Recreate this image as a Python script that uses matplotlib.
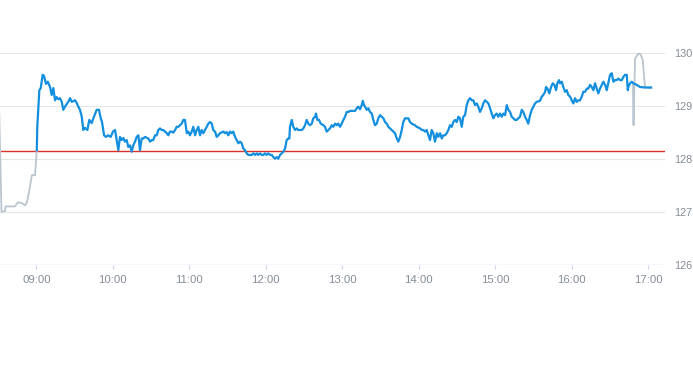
import matplotlib
matplotlib.use("Agg")
import matplotlib.pyplot as plt

# ---- data: minutes since 09:00, price ----
pre_min = [-29.4, -27.4, -24.6, -24.2, -16.8, -14.4, -11.3, -8.9, -7.4, -5.8, -3.5, -1.1, 0.3]
pre_px = [129.11, 127.01, 127.02, 127.11, 127.11, 127.19, 127.17, 127.13, 127.19, 127.38, 127.70, 127.70, 128.17]

session = [
    (0.3, 128.17), (0.7, 128.61), (2.3, 129.30), (3.4, 129.34), (4.9, 129.59), (6.0, 129.57),
    (7.5, 129.42), (8.9, 129.46), (10.7, 129.36), (12.0, 129.21), (13.3, 129.34), (14.6, 129.11),
    (15.9, 129.17), (17.2, 129.13), (18.5, 129.15), (19.9, 129.08), (21.1, 128.93), (22.4, 128.99),
    (25.0, 129.08), (26.4, 129.15), (27.7, 129.08), (30.3, 129.11), (31.6, 129.06), (32.9, 128.99),
    (34.2, 128.93), (35.6, 128.80), (36.8, 128.55), (38.1, 128.59), (40.0, 128.55), (41.5, 128.74),
    (43.4, 128.68), (44.7, 128.77), (47.3, 128.93), (49.1, 128.93), (50.5, 128.77), (51.5, 128.70),
    (53.1, 128.45), (54.6, 128.42), (56.2, 128.45), (58.3, 128.42), (60.1, 128.52), (61.7, 128.55),
    (63.0, 128.36), (64.3, 128.17), (65.6, 128.42), (66.9, 128.36), (68.2, 128.40), (69.5, 128.33),
    (70.9, 128.36), (72.1, 128.23), (73.5, 128.26), (74.8, 128.14), (76.0, 128.26), (77.4, 128.33),
    (78.7, 128.42), (80.0, 128.45), (81.3, 128.17), (82.6, 128.39), (83.9, 128.39), (85.2, 128.42),
    (87.8, 128.39), (89.2, 128.33), (90.5, 128.36), (91.7, 128.36), (93.1, 128.45), (94.4, 128.45),
    (95.7, 128.55), (97.0, 128.58), (98.3, 128.55), (99.6, 128.55), (100.9, 128.52), (102.3, 128.49),
    (103.5, 128.45), (104.8, 128.52), (106.2, 128.52), (107.4, 128.50), (108.8, 128.55), (110.1, 128.61),
    (111.4, 128.61), (114.0, 128.67), (115.3, 128.74), (116.6, 128.74), (118.0, 128.49), (119.2, 128.52),
    (120.5, 128.45), (121.9, 128.52), (123.1, 128.61), (124.5, 128.45), (125.8, 128.55), (127.1, 128.61),
    (128.4, 128.45), (129.7, 128.55), (131.0, 128.49), (132.3, 128.55), (133.7, 128.61), (134.9, 128.67),
    (136.2, 128.70), (137.6, 128.67), (138.8, 128.55), (140.2, 128.52), (141.5, 128.42), (142.8, 128.45),
    (144.1, 128.49), (146.7, 128.52), (148.0, 128.49), (149.4, 128.51), (150.6, 128.45), (151.9, 128.52),
    (153.3, 128.49), (154.5, 128.52), (155.9, 128.42), (157.2, 128.36), (158.5, 128.30), (159.8, 128.33),
    (161.1, 128.30), (162.4, 128.20), (163.7, 128.17), (165.0, 128.11), (166.3, 128.08), (169.0, 128.08),
    (170.2, 128.11), (171.6, 128.08), (172.9, 128.11), (174.2, 128.08), (175.5, 128.11), (176.8, 128.08),
    (178.1, 128.08), (179.4, 128.11), (180.7, 128.08), (182.0, 128.11), (183.3, 128.08), (184.7, 128.08),
    (185.9, 128.04), (187.3, 128.01), (188.6, 128.04), (189.8, 128.01), (191.2, 128.08), (192.5, 128.11),
    (193.8, 128.14), (195.1, 128.20), (196.4, 128.36), (197.7, 128.39), (198.5, 128.39), (199.0, 128.61),
    (200.4, 128.74), (201.6, 128.61), (203.0, 128.55), (204.3, 128.58), (205.5, 128.55), (208.2, 128.55),
    (209.5, 128.58), (210.8, 128.64), (212.1, 128.74), (213.4, 128.67), (214.7, 128.64), (216.1, 128.67),
    (217.3, 128.77), (218.7, 128.80), (219.4, 128.86), (220.5, 128.74), (221.8, 128.74), (223.1, 128.67),
    (225.2, 128.64), (226.5, 128.61), (227.8, 128.52), (230.4, 128.58), (231.8, 128.64), (233.0, 128.61),
    (234.4, 128.67), (235.7, 128.64), (236.9, 128.67), (238.3, 128.61), (239.6, 128.67), (240.9, 128.74),
    (242.2, 128.80), (243.5, 128.89), (244.8, 128.89), (246.1, 128.91), (248.7, 128.91), (250.0, 128.91),
    (251.4, 128.96), (252.6, 128.99), (254.0, 128.94), (255.3, 129.02), (256.1, 129.10), (257.1, 129.02),
    (257.9, 128.99), (259.2, 128.93), (260.5, 128.96), (261.8, 128.89), (263.2, 128.86), (264.4, 128.74),
    (265.7, 128.64), (267.1, 128.67), (268.3, 128.77), (269.7, 128.83), (271.0, 128.80), (272.3, 128.77),
    (273.6, 128.70), (274.9, 128.67), (276.2, 128.61), (277.5, 128.58), (278.8, 128.55), (280.1, 128.52),
    (281.4, 128.49), (282.8, 128.39), (284.0, 128.33), (285.4, 128.42), (286.7, 128.55), (287.9, 128.70),
    (289.3, 128.77), (291.9, 128.77), (293.2, 128.70), (294.5, 128.67), (297.1, 128.64), (298.5, 128.61),
    (301.1, 128.58), (302.4, 128.55), (303.6, 128.55), (305.0, 128.52), (306.3, 128.55), (307.6, 128.45),
    (308.9, 128.36), (310.2, 128.55), (311.5, 128.49), (312.8, 128.33), (314.2, 128.49), (315.4, 128.42),
    (316.8, 128.49), (318.1, 128.39), (319.3, 128.45), (320.7, 128.45), (322.0, 128.49), (323.3, 128.55),
    (324.6, 128.64), (325.9, 128.61), (327.2, 128.70), (328.5, 128.74), (329.9, 128.70), (331.1, 128.80),
    (332.4, 128.77), (333.8, 128.61), (335.0, 128.80), (336.4, 128.83), (337.7, 129.02), (339.0, 129.11),
    (340.3, 129.15), (341.6, 129.11), (342.9, 129.11), (344.2, 129.02), (345.6, 129.05), (346.8, 128.99),
    (348.1, 128.89), (349.5, 128.96), (350.7, 129.05), (352.1, 129.11), (353.4, 129.08), (354.7, 129.05),
    (356.0, 128.96), (357.3, 128.86), (358.6, 128.77), (359.9, 128.83), (361.2, 128.86), (362.5, 128.80),
    (363.8, 128.86), (365.2, 128.80), (366.4, 128.86), (367.8, 128.83), (369.1, 129.02), (370.4, 128.93),
    (371.7, 128.89), (373.0, 128.80), (374.3, 128.77), (375.6, 128.74), (376.9, 128.74), (378.2, 128.77),
    (379.5, 128.80), (380.9, 128.93), (382.1, 128.89), (383.5, 128.80), (384.8, 128.74), (386.0, 128.67),
    (387.4, 128.83), (388.7, 128.93), (390.0, 128.99), (391.3, 129.05), (392.6, 129.08), (395.2, 129.10),
    (396.6, 129.18), (397.8, 129.21), (399.2, 129.27), (399.9, 129.36), (401.0, 129.33), (402.5, 129.24),
    (403.9, 129.36), (405.2, 129.43), (406.5, 129.40), (407.8, 129.30), (408.8, 129.43), (410.1, 129.49),
    (410.9, 129.43), (412.3, 129.46), (413.5, 129.36), (414.9, 129.27), (416.2, 129.30), (417.4, 129.21),
    (418.8, 129.18), (420.1, 129.11), (421.4, 129.05), (422.7, 129.15), (424.0, 129.08), (425.3, 129.11),
    (426.6, 129.11), (428.0, 129.18), (429.2, 129.27), (430.6, 129.27), (431.9, 129.33), (433.1, 129.33),
    (434.5, 129.40), (435.8, 129.36), (437.1, 129.30), (438.4, 129.43), (439.7, 129.33), (441.0, 129.24),
    (442.3, 129.33), (443.7, 129.40), (444.9, 129.46), (446.3, 129.40), (447.6, 129.30), (448.8, 129.43),
    (450.2, 129.59), (451.5, 129.62), (452.8, 129.46), (454.1, 129.49), (455.4, 129.49), (456.7, 129.52),
    (458.0, 129.49), (459.4, 129.49), (460.6, 129.55), (461.9, 129.59), (463.3, 129.59), (464.1, 129.30),
    (464.5, 129.36), (465.9, 129.43), (467.2, 129.46), (468.5, 129.43), (471.1, 129.40), (473.7, 129.36),
    (477.7, 129.35), (482.4, 129.35),
]
sess_min = [t for t, _ in session]
sess_px = [p for _, p in session]

post_min = [468.2, 468.3, 468.6, 469.8, 472.4, 474.1, 475.8, 477.6, 482.4]
post_px = [129.43, 129.02, 128.64, 129.90, 129.99, 129.98, 129.87, 129.36, 129.35]

ref_price = 128.15
tick_min = [0, 60, 120, 180, 240, 300, 360, 420, 480]
tick_labels = ["09:00", "10:00", "11:00", "12:00", "13:00", "14:00", "15:00", "16:00", "17:00"]
y_ticks = [126, 127, 128, 129, 130]

# ---- figure ----
W, H = 693, 365
fig = plt.figure(figsize=(W / 100, H / 100), dpi=100)
ax = fig.add_axes([0, (H - 265.3) / H, 665 / W, 265.3 / H])

label_color = "#858d96"
ax.set_xlim(-28.57, 493.3)
ax.set_ylim(126, 131)

for v in y_ticks[1:]:
    ax.axhline(v, color="#e6e6e6", lw=0.8, zorder=1)
ax.axhline(126, color="#ccd6eb", lw=1.0, zorder=2)

ax.axhline(ref_price, color="#d9302a", lw=1.0, zorder=3)

ax.plot(pre_min, pre_px, color="#b9c5cf", lw=1.3, zorder=4, solid_joinstyle="round")
ax.plot(post_min, post_px, color="#b9c5cf", lw=1.3, zorder=4, solid_joinstyle="round")
ax.plot(sess_min, sess_px, color="#138fdf", lw=1.6, zorder=5, solid_joinstyle="round")

for s in ax.spines.values():
    s.set_visible(False)

ax.set_xticks(tick_min)
ax.set_xticklabels(tick_labels)
ax.tick_params(axis="x", length=3, width=0.8, color="#ccd6eb", pad=4,
               labelsize=8.2, labelcolor=label_color)
ax.yaxis.tick_right()
ax.set_yticks(y_ticks)
ax.set_yticklabels([str(v) for v in y_ticks])
ax.tick_params(axis="y", length=0, pad=6.5, labelsize=7.8, labelcolor=label_color)
for lab in ax.get_xticklabels() + ax.get_yticklabels():
    lab.set_fontfamily("Liberation Sans")

fig.savefig("out.png", dpi=100)
